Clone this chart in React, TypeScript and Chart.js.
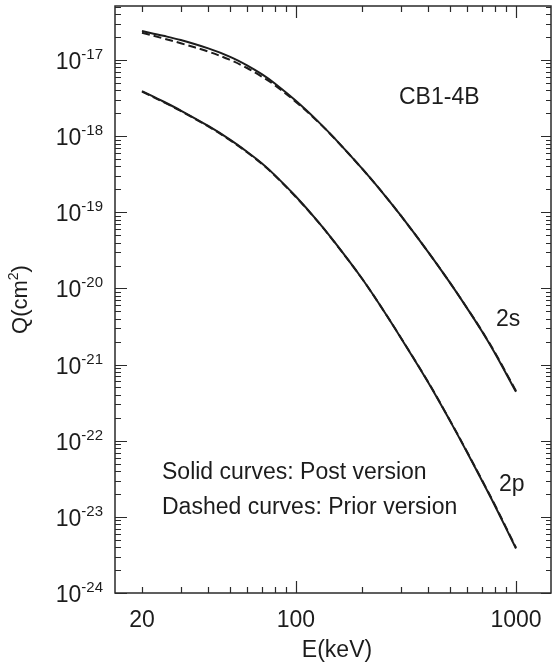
import React, { useEffect, useRef } from "react";
import { Chart, registerables } from "chart.js";

Chart.register(...registerables);

// ---- data (E in keV, Q in cm^2) ----
const energies = [20, 25, 30, 40, 50, 60, 70, 80, 100, 125, 150, 200, 250, 300, 400, 500, 600, 700, 800, 1000];
const q2sPost = [2.40e-17, 2.08e-17, 1.83e-17, 1.42e-17, 1.11e-17, 8.53e-18, 6.52e-18, 4.95e-18, 2.91e-18, 1.60e-18, 9.35e-19, 3.74e-19, 1.75e-19, 9.02e-20, 2.98e-20, 1.20e-20, 5.47e-21, 2.74e-21, 1.43e-21, 4.39e-22];
const q2sPrior = [2.28e-17, 1.92e-17, 1.66e-17, 1.29e-17, 1.01e-17, 7.85e-18, 6.06e-18, 4.70e-18, 2.82e-18, 1.58e-18, 9.30e-19, 3.74e-19, 1.75e-19, 9.02e-20, 2.98e-20, 1.20e-20, 5.50e-21, 2.77e-21, 1.46e-21, 4.50e-22];
const q2pPost = [3.90e-18, 2.85e-18, 2.17e-18, 1.36e-18, 9.08e-19, 6.24e-19, 4.40e-19, 3.10e-19, 1.61e-19, 7.78e-20, 4.05e-20, 1.34e-20, 5.14e-21, 2.24e-21, 5.78e-22, 1.85e-22, 7.00e-23, 3.00e-23, 1.42e-23, 3.84e-24];
const q2pPrior = [3.84e-18, 2.81e-18, 2.14e-18, 1.34e-18, 8.94e-19, 6.15e-19, 4.34e-19, 3.06e-19, 1.59e-19, 7.72e-20, 4.03e-20, 1.34e-20, 5.14e-21, 2.25e-21, 5.83e-22, 1.87e-22, 7.10e-23, 3.05e-23, 1.45e-23, 3.93e-24];

// ---- axes ----
const xMin = 15.08;
const xMax = 1442;
const yMin = 1e-24;
const yMax = 5.12e-17;
const xLabelTicks = [20, 100, 1000];
const xMajorTicks = [100, 1000];
const xMinorTicks = [20, 30, 40, 50, 60, 70, 80, 90, 200, 300, 400, 500, 600, 700, 800, 900];
const yDecadeExps = [-24, -23, -22, -21, -20, -19, -18, -17];
const yMinorMantissas = [2, 3, 4, 5, 6, 7, 8, 9];

// ---- texts ----
const xTitle = "E(keV)";
const yTitleMain = "Q(cm";
const yTitleSup = "2";
const yTitleEnd = ")";
const caseLabel = "CB1-4B";
const label2s = "2s";
const label2p = "2p";
const noteSolid = "Solid curves: Post version";
const noteDashed = "Dashed curves: Prior version";

const FONT = "'Liberation Sans', Arial, Helvetica, sans-serif";
const INK = "#1c1c1c";

const toPoints = (ys: number[]) => energies.map((e, i) => ({ x: e, y: ys[i] }));

const decorPlugin = {
  id: "decor",
  afterDraw(chart: any) {
    const { ctx, chartArea } = chart;
    const { left, right, top, bottom } = chartArea;
    const xs = chart.scales.x;
    const ys = chart.scales.y;
    ctx.save();
    // frame
    ctx.strokeStyle = "#2a2a2a";
    ctx.lineWidth = 1.5;
    ctx.strokeRect(left, top, right - left, bottom - top);

    // x ticks (bottom & top, inward)
    ctx.lineWidth = 1.2;
    const xt: [number, number][] = [
      ...xMinorTicks.map((v) => [v, 6] as [number, number]),
      ...xMajorTicks.map((v) => [v, 12] as [number, number]),
    ];
    for (const [v, len] of xt) {
      const px = Math.round(xs.getPixelForValue(v)) + 0.5;
      ctx.beginPath();
      ctx.moveTo(px, bottom);
      ctx.lineTo(px, bottom - len);
      ctx.moveTo(px, top);
      ctx.lineTo(px, top + len);
      ctx.stroke();
    }
    // y ticks (left & right, inward)
    for (const e of yDecadeExps) {
      const vals: [number, number][] = [[Math.pow(10, e), 12]];
      for (const m of yMinorMantissas) vals.push([m * Math.pow(10, e), 6]);
      for (const [v, len] of vals) {
        if (v < yMin || v > yMax) continue;
        const py = Math.round(ys.getPixelForValue(v)) + 0.5;
        ctx.beginPath();
        ctx.moveTo(left, py);
        ctx.lineTo(left + len, py);
        ctx.moveTo(right, py);
        ctx.lineTo(right - (len === 12 ? 10 : 5), py);
        ctx.stroke();
      }
    }

    // y tick labels 10^e
    ctx.fillStyle = INK;
    ctx.textBaseline = "alphabetic";
    for (const e of yDecadeExps) {
      const py = ys.getPixelForValue(Math.pow(10, e));
      const expStr = String(e);
      ctx.font = `15px ${FONT}`;
      const wExp = ctx.measureText(expStr).width;
      const xEnd = 103;
      ctx.textAlign = "left";
      ctx.fillText(expStr, xEnd - wExp, py - 1);
      ctx.font = `23px ${FONT}`;
      ctx.textAlign = "right";
      ctx.fillText("10", xEnd - wExp, py + 9);
    }

    // x title
    ctx.font = `23px ${FONT}`;
    ctx.textAlign = "center";
    ctx.fillText(xTitle, (left + right) / 2 + 4, 657);

    // y title (rotated)
    ctx.save();
    ctx.translate(27, (top + bottom) / 2);
    ctx.rotate(-Math.PI / 2);
    ctx.font = `22px ${FONT}`;
    const w1 = ctx.measureText(yTitleMain).width;
    const w3 = ctx.measureText(yTitleEnd).width;
    ctx.font = `14px ${FONT}`;
    const w2 = ctx.measureText(yTitleSup).width;
    let cx = -(w1 + w2 + w3) / 2;
    ctx.textAlign = "left";
    ctx.font = `22px ${FONT}`;
    ctx.fillText(yTitleMain, cx, 0);
    cx += w1;
    ctx.font = `14px ${FONT}`;
    ctx.fillText(yTitleSup, cx, -9);
    cx += w2;
    ctx.font = `22px ${FONT}`;
    ctx.fillText(yTitleEnd, cx, 0);
    ctx.restore();

    // annotations
    ctx.font = `23px ${FONT}`;
    ctx.textAlign = "left";
    ctx.fillText(caseLabel, 399, 104);
    ctx.fillText(label2s, 496, 326);
    ctx.fillText(label2p, 499, 491);
    ctx.fillText(noteSolid, 162, 479);
    ctx.fillText(noteDashed, 162, 514);
    ctx.restore();
  },
};

export default function App() {
  const ref = useRef<HTMLCanvasElement | null>(null);

  useEffect(() => {
    if (!ref.current) return;
    const solid = { borderColor: INK, borderWidth: 2, pointRadius: 0, tension: 0.35, fill: false };
    const dashed = { ...solid, borderDash: [8, 4] };
    const chart = new Chart(ref.current, {
      type: "line",
      data: {
        datasets: [
          { label: "2s post", data: toPoints(q2sPost), ...solid },
          { label: "2s prior", data: toPoints(q2sPrior), ...dashed },
          { label: "2p post", data: toPoints(q2pPost), ...solid },
          { label: "2p prior", data: toPoints(q2pPrior), ...dashed },
        ],
      },
      options: {
        animation: false,
        responsive: false,
        layout: { padding: { top: 6, right: 1, left: 0, bottom: 0 } },
        plugins: { legend: { display: false }, tooltip: { enabled: false } },
        scales: {
          x: {
            type: "logarithmic",
            position: "bottom",
            min: xMin,
            max: xMax,
            grid: { display: false },
            border: { display: false },
            afterBuildTicks: (scale: any) => {
              scale.ticks = xLabelTicks.map((v) => ({ value: v }));
            },
            afterFit: (scale: any) => {
              scale.height = 73;
            },
            ticks: {
              autoSkip: false,
              maxRotation: 0,
              padding: 6,
              color: INK,
              font: { family: FONT, size: 23 },
              callback: (v: any) => String(v),
            },
          },
          y: {
            type: "logarithmic",
            position: "left",
            min: yMin,
            max: yMax,
            grid: { display: false },
            border: { display: false },
            ticks: { display: false },
            afterFit: (scale: any) => {
              scale.width = 115;
            },
          },
        },
      },
      plugins: [decorPlugin],
    });
    return () => chart.destroy();
  }, []);

  return (
    <div style={{ position: "absolute", left: 0, top: 0, width: 552, height: 666, background: "#fff" }}>
      <canvas ref={ref} width={552} height={666} style={{ display: "block" }} />
    </div>
  );
}
